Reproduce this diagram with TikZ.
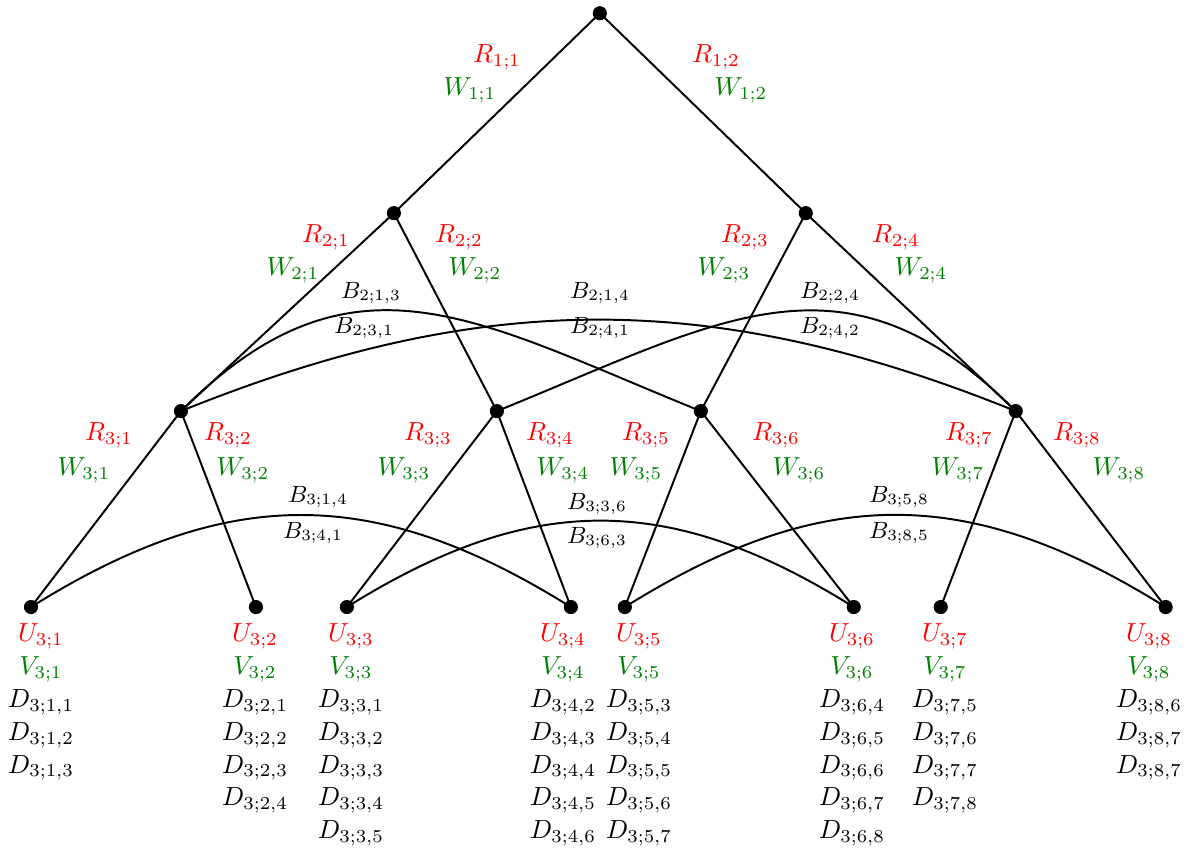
\documentclass[tikz,border=0pt]{standalone}
\usepackage{tkz-euclide}
\definecolor{RClr}{rgb}{1,0,0}
\definecolor{WClr}{rgb}{0,0.5,0}
\tikzset{rlbl/.style={text=RClr},
  wlbl/.style={text=WClr},
  blbl/.style={font=\small},
  leaflbl/.style={align=center,anchor=north,inner sep=0pt}}

\begin{document}
\begin{tikzpicture}[scale=1.345]
\tkzSetUpLine[line width=0.75pt,color=black]
\tkzSetUpPoint[fill=black]
\useasboundingbox (0,0) rectangle (11.88,8.52);

\tkzDefPoints{6/8.39/N0,3.94/6.39/N11,8.06/6.39/N12}
\tkzDefPoints{1.81/4.41/N21,4.97/4.41/N22,7.01/4.41/N23,10.16/4.41/N24}
\tkzDefPoints{0.31/2.45/N31,2.56/2.45/N32,3.47/2.45/N33,5.71/2.45/N34,6.25/2.45/N35,8.54/2.45/N36,9.41/2.45/N37,11.66/2.45/N38}

\tkzDrawSegments(N0,N11 N0,N12 N11,N21 N11,N22 N12,N23 N12,N24)
\tkzDrawSegments(N21,N31 N21,N32 N22,N33 N22,N34 N23,N35 N23,N36 N24,N37 N24,N38)

\draw[line width=0.75pt] (N21) to[out=45,in=158,looseness=1.2] (N23);
\draw[line width=0.75pt] (N21) to[out=22,in=158] (N24);
\draw[line width=0.75pt] (N22) to[out=22,in=135,looseness=1.2] (N24);
\draw[line width=0.75pt] (N31) to[out=32,in=148,looseness=1.1] (N34);
\draw[line width=0.75pt] (N33) to[out=32,in=148,looseness=1.1] (N36);
\draw[line width=0.75pt] (N35) to[out=32,in=148,looseness=1.1] (N38);

\tkzDrawPoints[size=5](N0,N11,N12,N21,N22,N23,N24)
\tkzDrawPoints[size=5](N31,N32,N33,N34,N35,N36,N37,N38)

\node[rlbl] (r11) at (4.97,7.95) {$R_{1;1}$};
\node[wlbl] (w11) at (4.70,7.62) {$W_{1;1}$};
\node[rlbl] (r12) at (7.16,7.95) {$R_{1;2}$};
\node[wlbl] (w12) at (7.41,7.62) {$W_{1;2}$};

\node[rlbl] (r21) at (3.26,6.15) {$R_{2;1}$};
\node[wlbl] (w21) at (2.93,5.82) {$W_{2;1}$};
\node[rlbl] (r22) at (4.59,6.15) {$R_{2;2}$};
\node[wlbl] (w22) at (4.75,5.82) {$W_{2;2}$};
\node[rlbl] (r23) at (7.45,6.15) {$R_{2;3}$};
\node[wlbl] (w23) at (7.24,5.82) {$W_{2;3}$};
\node[rlbl] (r24) at (8.96,6.15) {$R_{2;4}$};
\node[wlbl] (w24) at (9.21,5.82) {$W_{2;4}$};

\node[rlbl] (r31) at (1.09,4.17) {$R_{3;1}$};
\node[wlbl] (w31) at (0.84,3.82) {$W_{3;1}$};
\node[rlbl] (r32) at (2.28,4.17) {$R_{3;2}$};
\node[wlbl] (w32) at (2.43,3.82) {$W_{3;2}$};
\node[rlbl] (r33) at (4.28,4.17) {$R_{3;3}$};
\node[wlbl] (w33) at (4.04,3.82) {$W_{3;3}$};
\node[rlbl] (r34) at (5.50,4.17) {$R_{3;4}$};
\node[wlbl] (w34) at (5.63,3.82) {$W_{3;4}$};
\node[rlbl] (r35) at (6.46,4.17) {$R_{3;5}$};
\node[wlbl] (w35) at (6.36,3.82) {$W_{3;5}$};
\node[rlbl] (r36) at (7.76,4.17) {$R_{3;6}$};
\node[wlbl] (w36) at (7.99,3.82) {$W_{3;6}$};
\node[rlbl] (r37) at (9.69,4.17) {$R_{3;7}$};
\node[wlbl] (w37) at (9.58,3.82) {$W_{3;7}$};
\node[rlbl] (r38) at (10.77,4.17) {$R_{3;8}$};
\node[wlbl] (w38) at (11.19,3.82) {$W_{3;8}$};

\node[blbl] (b213) at (3.71,5.59) {$B_{2;1,3}$};
\node[blbl] (b231) at (3.64,5.24) {$B_{2;3,1}$};
\node[blbl] (b214) at (6.00,5.59) {$B_{2;1,4}$};
\node[blbl] (b241) at (6.00,5.24) {$B_{2;4,1}$};
\node[blbl] (b224) at (8.30,5.59) {$B_{2;2,4}$};
\node[blbl] (b242) at (8.30,5.24) {$B_{2;4,2}$};
\node[blbl] (b314) at (3.18,3.55) {$B_{3;1,4}$};
\node[blbl] (b341) at (3.13,3.19) {$B_{3;4,1}$};
\node[blbl] (b336) at (5.97,3.48) {$B_{3;3,6}$};
\node[blbl] (b363) at (5.97,3.14) {$B_{3;6,3}$};
\node[blbl] (b358) at (8.99,3.55) {$B_{3;5,8}$};
\node[blbl] (b385) at (8.99,3.19) {$B_{3;8,5}$};

\node[leaflbl] (l1) at (0.41,2.29) {\textcolor{RClr}{$U_{3;1}$}\\[0.6pt] \textcolor{WClr}{$V_{3;1}$}\\[0.6pt] $D_{3;1,1}$\\[0.6pt] $D_{3;1,2}$\\[0.6pt] $D_{3;1,3}$};
\node[leaflbl] (l2) at (2.55,2.29) {\textcolor{RClr}{$U_{3;2}$}\\[0.6pt] \textcolor{WClr}{$V_{3;2}$}\\[0.6pt] $D_{3;2,1}$\\[0.6pt] $D_{3;2,2}$\\[0.6pt] $D_{3;2,3}$\\[0.6pt] $D_{3;2,4}$};
\node[leaflbl] (l3) at (3.51,2.29) {\textcolor{RClr}{$U_{3;3}$}\\[0.6pt] \textcolor{WClr}{$V_{3;3}$}\\[0.6pt] $D_{3;3,1}$\\[0.6pt] $D_{3;3,2}$\\[0.6pt] $D_{3;3,3}$\\[0.6pt] $D_{3;3,4}$\\[0.6pt] $D_{3;3,5}$};
\node[leaflbl] (l4) at (5.63,2.29) {\textcolor{RClr}{$U_{3;4}$}\\[0.6pt] \textcolor{WClr}{$V_{3;4}$}\\[0.6pt] $D_{3;4,2}$\\[0.6pt] $D_{3;4,3}$\\[0.6pt] $D_{3;4,4}$\\[0.6pt] $D_{3;4,5}$\\[0.6pt] $D_{3;4,6}$};
\node[leaflbl] (l5) at (6.39,2.29) {\textcolor{RClr}{$U_{3;5}$}\\[0.6pt] \textcolor{WClr}{$V_{3;5}$}\\[0.6pt] $D_{3;5,3}$\\[0.6pt] $D_{3;5,4}$\\[0.6pt] $D_{3;5,5}$\\[0.6pt] $D_{3;5,6}$\\[0.6pt] $D_{3;5,7}$};
\node[leaflbl] (l6) at (8.52,2.29) {\textcolor{RClr}{$U_{3;6}$}\\[0.6pt] \textcolor{WClr}{$V_{3;6}$}\\[0.6pt] $D_{3;6,4}$\\[0.6pt] $D_{3;6,5}$\\[0.6pt] $D_{3;6,6}$\\[0.6pt] $D_{3;6,7}$\\[0.6pt] $D_{3;6,8}$};
\node[leaflbl] (l7) at (9.45,2.29) {\textcolor{RClr}{$U_{3;7}$}\\[0.6pt] \textcolor{WClr}{$V_{3;7}$}\\[0.6pt] $D_{3;7,5}$\\[0.6pt] $D_{3;7,6}$\\[0.6pt] $D_{3;7,7}$\\[0.6pt] $D_{3;7,8}$};
\node[leaflbl] (l8) at (11.49,2.29) {\textcolor{RClr}{$U_{3;8}$}\\[0.6pt] \textcolor{WClr}{$V_{3;8}$}\\[0.6pt] $D_{3;8,6}$\\[0.6pt] $D_{3;8,7}$\\[0.6pt] $D_{3;8,7}$};

\end{tikzpicture}
\end{document}
